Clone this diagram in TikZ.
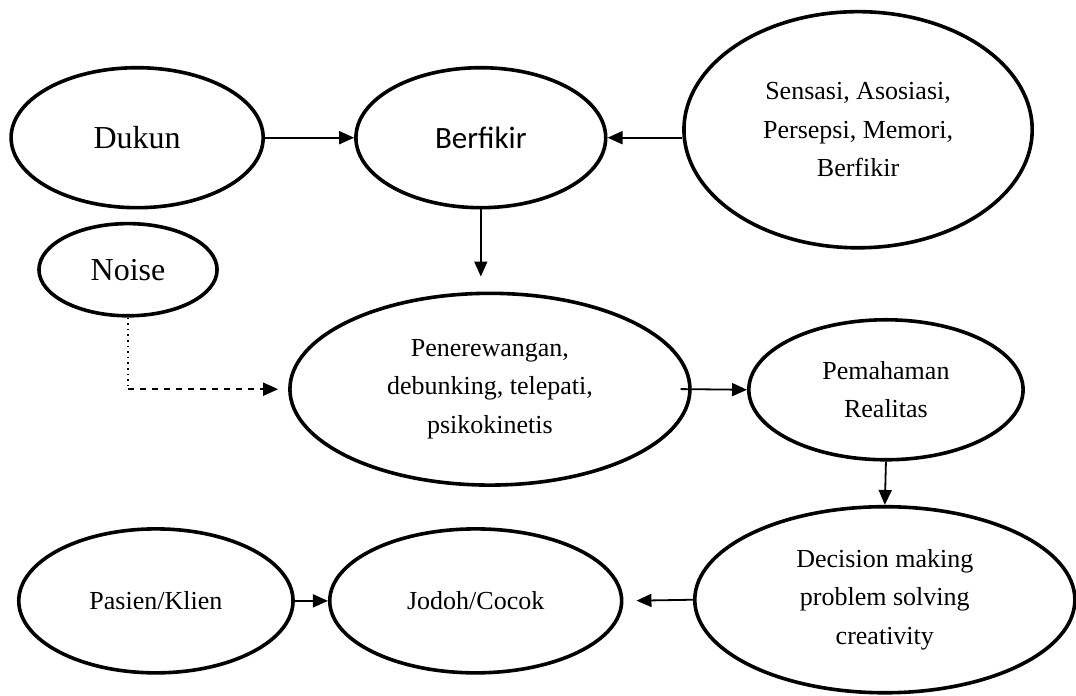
\documentclass[tikz,border=0pt]{standalone}
\usepackage{fontspec}
\setmainfont{Liberation Serif}
\newfontfamily\calibri{Carlito}
\usetikzlibrary{shapes.geometric,arrows.meta}
\begin{document}
\begin{tikzpicture}[
        bub/.style={draw,ellipse,line width=1.8pt,inner sep=0pt,align=center,
            font=\fontsize{13}{19.3}\selectfont},
        arr/.style={line width=0.9pt,-{Triangle[length=7.5pt,width=6.5pt]}}]
        \useasboundingbox (0,0) rectangle (18.91,12.23);
        \node[bub,minimum width=4.43cm,minimum height=2.46cm,font=\fontsize{16}{19}\selectfont] (dukun) at (2.41,9.81) {Dukun};
        \node[bub,minimum width=4.39cm,minimum height=2.46cm,font=\calibri\fontsize{15.5}{19}\selectfont] (berfikir) at (8.45,9.81) {Berfikir};
        \node[bub,minimum width=6.12cm,minimum height=4.15cm] (proses) at (15.08,9.95) {Sensasi, Asosiasi,\\ Persepsi, Memori,\\ Berfikir};
        \node[bub,minimum width=3.13cm,minimum height=1.62cm,font=\fontsize{16}{19}\selectfont] (noise) at (2.25,7.49) {Noise};
        \node[bub,minimum width=7.03cm,minimum height=3.37cm] (terawang) at (8.61,5.39) {Penerewangan,\\ debunking, telepati,\\ psikokinetis};
        \node[bub,minimum width=4.82cm,minimum height=2.46cm] (realitas) at (15.57,5.38) {Pemahaman\\ Realitas};
        \node[bub,minimum width=6.68cm,minimum height=3.27cm] (decision) at (15.55,1.69) {Decision making\\ problem solving\\ creativity};
        \node[bub,minimum width=4.82cm,minimum height=2.53cm] (pasien) at (2.74,1.67) {Pasien/Klien};
        \node[bub,minimum width=5.13cm,minimum height=2.53cm] (jodoh) at (8.36,1.67) {Jodoh/Cocok};
        \coordinate (nbend) at (noise.south |- terawang.west);
        \draw[arr] (dukun.east) -- (berfikir.west);
        \draw[arr] (proses.west |- berfikir.east) -- (berfikir.east);
        \draw[arr,shorten >=7.5pt] (berfikir.south) -- (berfikir.south |- terawang.north);
        \draw[line width=0.8pt,dotted] (noise.south) -- (nbend);
        \draw[arr,dashed,shorten >=5pt] (nbend) -- (terawang.west);
        \draw[arr,shorten <=-5.5pt] (terawang.east) -- (realitas.west);
        \draw[arr] (realitas.south) -- (decision.north);
        \draw[arr,shorten >=6.5pt] (decision.west) -- (jodoh.east);
        \draw[arr] (pasien.east) -- (jodoh.west);
\end{tikzpicture}
\end{document}
